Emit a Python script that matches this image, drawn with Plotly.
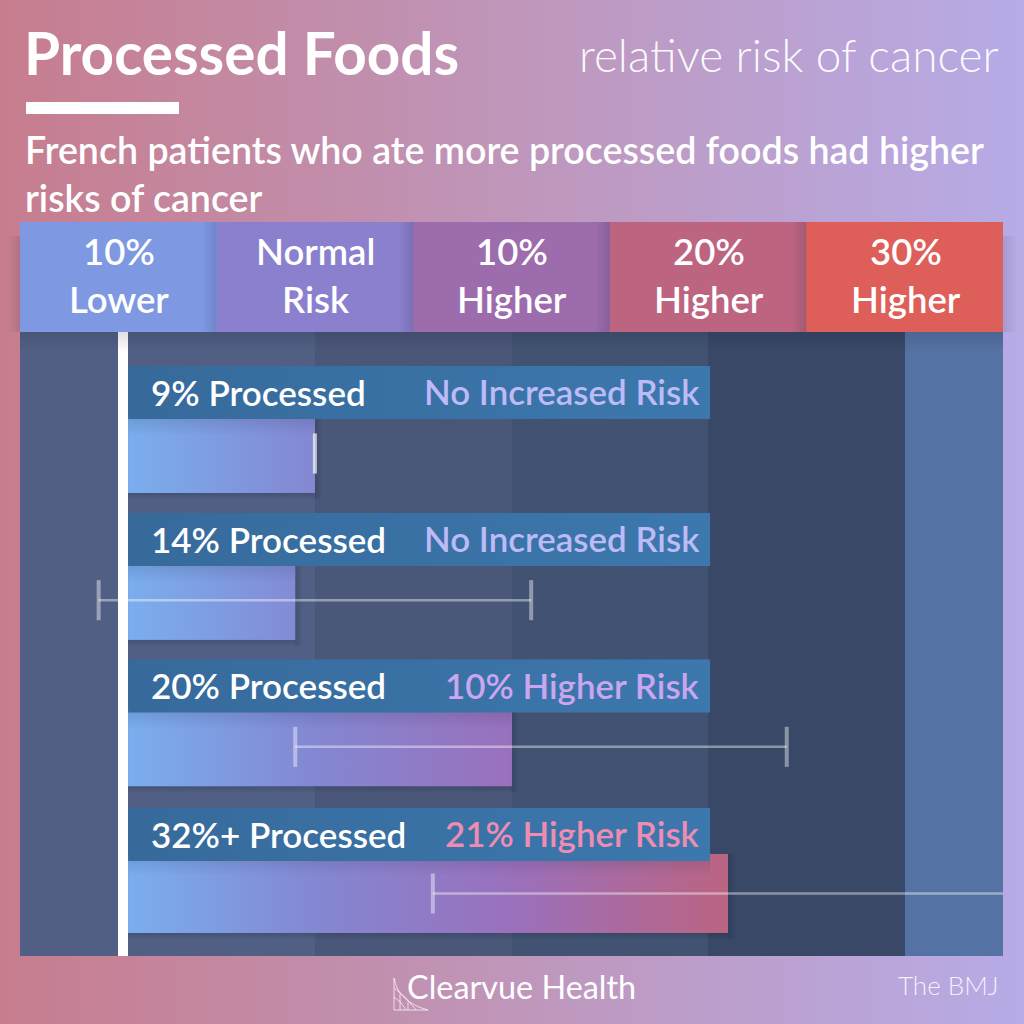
import plotly.graph_objects as go

# ---- data ----
row_names = ["9% Processed", "14% Processed", "20% Processed", "32%+ Processed"]
risk_labels = ["No Increased Risk", "No Increased Risk", "10% Higher Risk", "21% Higher Risk"]
risk_colors = ["#BDBBF6", "#BDBBF6", "#C9A6EE", "#EF8CB2"]
relative_risk = [1.00, 0.99, 1.10, 1.21]
ci_low = [1.00, 0.89, 0.99, 1.06]
ci_high = [1.00, 1.11, 1.24, 1.38]
header_values = [0.9, 1.0, 1.1, 1.2, 1.3]
header_top = ["10%", "Normal", "10%", "20%", "30%"]
header_bottom = ["Lower", "Risk", "Higher", "Higher", "Higher"]
header_colors = ["#7E98E2", "#8A80CE", "#9C6CAD", "#BC6480", "#DE5E59"]
band_edges = [0.85, 0.9, 1.0, 1.1, 1.2, 1.3, 1.35]
band_colors = ["#525F84", "#505F83", "#4A5779", "#415272", "#384866", "#5572A4"]
gradient_stops = [(0.905, "#7AAEEE"), (1.0, "#8487D2"), (1.1, "#9A70BC"), (1.21, "#BB6482")]

FONT = "Lato"
ROW = 146.67
BASE = 0.905
STRIP_END = 1.201
STRIP_CENTERS = [392.5, 539.5, 686.0, 834.5]
def yp(p): return (p - 453.5) / ROW
def xpx(v): return 118.5 + (v - 0.9) * 1967.5
DX = 0.1 / 196.75

fig = go.Figure()

def rect(x0, x1, y0, y1, c0, c1=None, kind="horizontal", xa="x2", ya="y2", start=None, stop=None, stops=None):
    c1 = c1 or c0
    scale = stops or [[0, c0], [1, c1]]
    if start is None:
        start, stop = (x0, x1) if kind == "horizontal" else (y0, y1)
    fig.add_trace(go.Scatter(x=[x0, x1, x1, x0, x0], y=[y0, y0, y1, y1, y0], mode="none", fill="toself",
                             fillgradient=dict(type=kind, colorscale=scale, start=start, stop=stop),
                             hoverinfo="skip", showlegend=False, xaxis=xa, yaxis=ya))

# background, in a full-page pixel subplot
rect(0, 1024, 0, 1024, "", xa="x", ya="y", stops=[[0, "#C77D8E"], [0.5, "#BF96BA"], [1, "#B7ABE6"]])
# shadows of the header on the page
rect(8, 20, 236, 332, "rgba(40,30,60,0)", "rgba(40,30,60,0.13)", xa="x", ya="y")
rect(1003, 1017, 236, 332, "rgba(40,30,60,0.12)", "rgba(40,30,60,0)", xa="x", ya="y")

# bands
fig.add_trace(go.Bar(orientation="h", base=band_edges[:-1],
                     x=[b - a for a, b in zip(band_edges[:-1], band_edges[1:])],
                     y=[(yp(332) + yp(956)) / 2] * len(band_colors), width=yp(956) - yp(332),
                     marker=dict(color=band_colors, line_width=0), hoverinfo="skip", xaxis="x2", yaxis="y2"))
# header cells
fig.add_trace(go.Bar(orientation="h", base=[v - 0.05 for v in header_values], x=[0.1] * 5,
                     y=[(yp(222) + yp(332)) / 2] * 5, width=yp(332) - yp(222),
                     marker=dict(color=header_colors, line_width=0), hoverinfo="skip", xaxis="x2", yaxis="y2"))
# white baseline
fig.add_trace(go.Bar(orientation="h", base=[0.9], x=[BASE - 0.9], y=[(yp(332) + yp(956)) / 2], width=yp(956) - yp(332),
                     marker=dict(color="#FFFFFF", line_width=0), hoverinfo="skip", xaxis="x2", yaxis="y2"))
# value bars, solid underlay
rows = list(range(len(row_names)))
fig.add_trace(go.Bar(orientation="h", base=[BASE] * 4, x=[v - BASE for v in relative_risk], y=rows, width=79 / ROW,
                     marker=dict(color="#8487D2", line_width=0), hoverinfo="skip", xaxis="x2", yaxis="y2"))

# header shadows
for v in header_values[1:]:
    e = v - 0.05
    rect(e - 14 * DX, e, yp(222), yp(332), "rgba(30,30,60,0)", "rgba(30,30,60,0.16)")
# panel top shadow
rect(0.85, 1.35, yp(332), yp(352), "rgba(20,20,40,0.14)", "rgba(20,20,40,0)", kind="vertical")

lo, hi = gradient_stops[0][0], gradient_stops[-1][0]
scale = [[(v - lo) / (hi - lo), c] for v, c in gradient_stops]
for i, v in enumerate(relative_risk):
    top, bottom = i - 39.5 / ROW, i + 39.5 / ROW
    # soft shadow
    rect(v, v + 8 * DX, top, bottom + 6 / ROW, "rgba(15,20,40,0.20)", "rgba(15,20,40,0)")
    rect(BASE, v, bottom, bottom + 7 / ROW, "rgba(15,20,40,0.18)", "rgba(15,20,40,0)", kind="vertical")
    rect(BASE, v, top, bottom, "", stops=scale, start=lo, stop=hi)
    # strip shadow on top of the bar
    rect(BASE, STRIP_END if v > STRIP_END else v, top, top + 22 / ROW, "rgba(20,30,60,0.16)", "rgba(20,30,60,0)", kind="vertical")

for c in STRIP_CENTERS:
    rect(BASE, STRIP_END, yp(c - 26.5), yp(c + 26.5), "#376A9B", "#3C78AE")

for i in rows:
    fig.add_trace(go.Scatter(x=[ci_low[i], ci_high[i]], y=[i, i], mode="lines+markers",
                             line=dict(color="rgba(255,255,255,0.42)", width=2.5),
                             marker=dict(symbol="line-ns", size=28.6, color="rgba(255,255,255,0.42)",
                                         line=dict(width=4, color="rgba(255,255,255,0.42)")),
                             hoverinfo="skip", showlegend=False, xaxis="x2", yaxis="y2"))

def note(text, x, y, size, color="#FFFFFF", anchor="left", weight=400):
    fig.add_annotation(text=text, xref="paper", yref="paper", x=x / 1024, y=1 - y / 1024, xanchor=anchor, yanchor="middle",
                       showarrow=False, font=dict(family=FONT, size=size, color=color, weight=weight))

note("Processed Foods", 22, 52, 58.4, weight=700)
note("relative risk of cancer", 1001, 54, 45.9, anchor="right", weight=300, color="rgba(255,255,255,0.95)")
note("French patients who ate more processed foods had higher", 23, 149, 37.6, weight=600)
note("risks of cancer", 23, 197, 37.6, weight=600)
for v, a, b in zip(header_values, header_top, header_bottom):
    note(a, xpx(v), 251, 36.5, anchor="center", weight=600)
    note(b, xpx(v), 299, 36.5, anchor="center", weight=600)
for i, c in enumerate(STRIP_CENTERS):
    note(row_names[i], 149, c - 1, 35, weight=600)
    note(risk_labels[i], 702, c - 1, 34.9, color=risk_colors[i], anchor="right", weight=600)
note("Clearvue Health", 405, 986, 32.4)
note("The BMJ", 1001, 985, 26, anchor="right", weight=300, color="rgba(255,255,255,0.85)")

shapes = [dict(type="rect", xref="paper", yref="paper", x0=26 / 1024, x1=179 / 1024, y0=1 - 114 / 1024, y1=1 - 102 / 1024,
               fillcolor="#FFFFFF", line_width=0)]
def lpx(d):
    return dict(type="path", path=d, xref="x", yref="y", line=dict(color="rgba(255,255,255,0.7)", width=1), layer="above")
for d in ["M 394 978 L 394 1010 L 428 1010", "M 394 978 Q 398 1002 428 1010", "M 394 988 Q 406 996 416 1010",
          "M 394 997 Q 402 1002 406 1010", "M 400 994 L 400 1010", "M 408 1002 L 408 1010"]:
    shapes.append(lpx(d))

fig.update_layout(
    width=1024, height=1024, margin=dict(l=0, r=0, t=0, b=0), paper_bgcolor="rgba(0,0,0,0)", plot_bgcolor="rgba(0,0,0,0)",
    barmode="overlay", showlegend=False, shapes=shapes, bargap=0,
    xaxis=dict(domain=[0, 1], range=[0, 1024], visible=False),
    yaxis=dict(domain=[0, 1], range=[1024, 0], visible=False),
    xaxis2=dict(domain=[20 / 1024, 1003 / 1024], range=[0.85, 1.35], visible=False, anchor="y2"),
    yaxis2=dict(domain=[1 - 956 / 1024, 1 - 222 / 1024], range=[yp(956), yp(222)], visible=False, anchor="x2"),
)
fig.write_html("out.html", config=dict(displayModeBar=False),
               post_script="document.body.style.margin='0';var s=document.createElement('style');s.textContent='text{font-variant-ligatures:none}';document.head.appendChild(s);")
